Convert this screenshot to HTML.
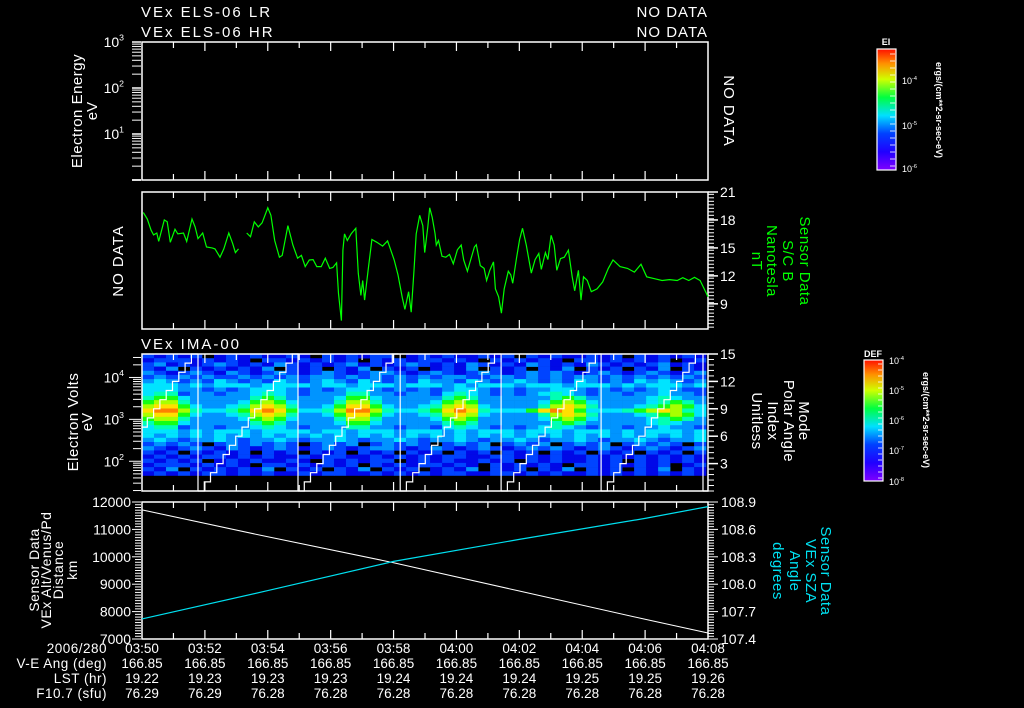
<!DOCTYPE html>
<html><head><meta charset="utf-8">
<style>
html,body{margin:0;padding:0;background:#000;}
svg{display:block;font-family:"Liberation Sans",sans-serif;}
text{fill:#fff;}
</style></head>
<body>
<svg id="c" width="1024" height="708" viewBox="0 0 1024 708" xmlns="http://www.w3.org/2000/svg">
<defs>
<linearGradient id="jet" x1="0" y1="1" x2="0" y2="0">
<stop offset="0" stop-color="#8000ff"/><stop offset="0.15" stop-color="#2000ff"/>
<stop offset="0.3" stop-color="#0040ff"/><stop offset="0.45" stop-color="#00e0ff"/>
<stop offset="0.6" stop-color="#00ff40"/><stop offset="0.75" stop-color="#d0ff00"/>
<stop offset="0.88" stop-color="#ff9000"/><stop offset="1" stop-color="#ff1000"/>
</linearGradient>
</defs>
<g id="g"></g>
</svg>
<script>
// ---------- data ----------
const timeTicks = ["03:50","03:52","03:54","03:56","03:58","04:00","04:02","04:04","04:06","04:08"];
const veAng = ["166.85","166.85","166.85","166.85","166.85","166.85","166.85","166.85","166.85","166.85"];
const lst = ["19.22","19.23","19.23","19.23","19.24","19.24","19.24","19.25","19.25","19.26"];
const f107 = ["76.29","76.29","76.28","76.28","76.28","76.28","76.28","76.28","76.28","76.28"];
// magnetic field (minutes since 03:50, nT); null = gap
const bTimes = [0.04,0.17,0.29,0.37,0.47,0.53,0.71,0.8,0.9,1.05,1.14,1.32,1.42,1.59,1.69,1.78,1.93,2.05,2.23,2.32,2.48,2.6,2.76,2.88,2.97,3.07,3.2,3.33,3.45,3.57,3.7,3.82,4.0,4.1,4.22,4.37,4.46,4.64,4.8,4.95,5.07,5.19,5.32,5.44,5.56,5.7,5.83,5.97,6.07,6.19,6.25,6.34,6.39,6.44,6.53,6.65,6.8,6.88,6.96,7.02,7.08,7.19,7.31,7.47,7.65,7.81,8.02,8.14,8.28,8.36,8.48,8.56,8.65,8.72,8.83,8.93,8.99,9.09,9.15,9.23,9.32,9.36,9.43,9.54,9.66,9.78,9.9,10.03,10.15,10.23,10.35,10.45,10.57,10.63,10.76,10.88,10.96,11.06,11.18,11.24,11.34,11.43,11.52,11.65,11.73,11.79,11.91,12.01,12.1,12.22,12.38,12.5,12.62,12.7,12.83,12.91,13.01,13.11,13.19,13.31,13.43,13.56,13.68,13.76,13.88,13.96,14.04,14.16,14.29,14.47,14.65,14.83,14.98,15.2,15.44,15.66,15.87,16.05,16.3,16.54,16.78,17.02,17.2,17.39,17.57,17.75,17.88,18.0];
const bValues = [18.8,18.1,16.9,16.4,16.6,15.7,18.0,17.8,15.6,17.0,16.5,16.6,15.7,18.1,17.25,16.0,16.6,15.1,15.0,14.9,14.0,14.9,16.6,15.5,14.5,14.9,null,16.6,16.2,17.8,17.25,17.7,19.3,18.5,15.8,14.0,14.2,17.4,15.3,13.9,14.2,13.0,13.7,13.75,13.0,13.0,13.9,12.8,12.9,13.4,10.1,7.2,14.75,16.5,15.8,16.5,17.1,12.25,9.9,11.5,9.4,12.6,15.9,15.6,15.2,15.75,13.7,12.1,9.6,8.4,10.3,8.1,12.6,16.5,18.5,17.4,14.5,17.25,19.3,18.3,16.5,15.3,15.8,14.1,14.0,14.3,13.3,14.8,15.3,13.7,12.5,13.7,15.1,15.35,13.1,12.8,11.5,12.6,13.5,10.6,9.75,8.0,10.6,12.5,12.1,11.2,13.9,15.9,17.1,15.3,12.3,13.75,14.4,12.7,14.5,13.75,16.35,15.3,12.6,13.85,14.0,14.75,11.9,10.4,12.6,9.4,11.9,11.5,10.3,10.6,11.35,12.8,13.7,13.0,12.8,12.4,13.25,11.9,11.7,11.5,11.6,11.5,11.8,11.5,11.85,11.5,10.6,9.75];
// IMA spectrogram: energy bin centres (log10 eV), colour level per time bin (0=no counts .. 9=max)
const energyLog = [4.51,4.41,4.31,4.21,4.11,4.01,3.91,3.81,3.71,3.61,3.51,3.41,3.31,3.21,3.11,3.01,2.91,2.81,2.71,2.61,2.51,2.41,2.31,2.21,2.11,2.01,1.91,1.81,1.71];
const specBinMinutes = 0.3817;
const specRows = [
"21212012121121021212201212112120212112120212121",
"12221212102212121202121221210212121022121212012",
"23121232121321212312123212132121321213212123121",
"21302121213021202130212012130212021302120213021",
"32123213212321232123321232123212323212321232123",
"23232322323232332323232323322332323233232323232",
"34323243232432343243232433243234323243232434323",
"44434344434444344344434443434443444344434344434",
"44433232344432323443232323443232334432323234322",
"45523323345432333553323324543232345432332334332",
"56643333356533334664333335653333335653333345433",
"67753333467643335775333346763333346764333345653",
"78864334578753346886433457874333357875333456764",
"89975445689864457997544568985444689864445678754",
"78864334578753346886433457874333357875333456764",
"67753333467643335775333346763333346764333345653",
"56643333356533334664333335653333335653333345433",
"45523323345432333553323324543232345432332334332",
"44434344434444344344434443434443444344434344434",
"43434343434343434343434343434343434343434343434",
"34323343233432334323343233432334323343233432334",
"23232023232320232302323202323023230232302323202",
"32123213212321232123321232123212323212321232123",
"21202121202120212021202120212021202120212021202",
"12121221212112122112121212211221212112121212121",
"21212012121121021212201212112120212112120212121",
"12221212102212121202121221210212121022121212012",
"21302121213021202130212012130212021302120213021",
"12121221212112122112121212211221212112121212121"];
// polar angle sweep start times (minutes), 16 steps each
const sweepStarts = [-1.43,1.78,4.96,8.21,11.42,14.6,17.84];
const sweepStepMinutes = 0.2;
// orbit
const orbitTimes = [0,4,8,12,16,18];
const altitudeKm = [11710,10730,9785,8750,7720,7220];
const szaDeg = [107.62,107.93,108.25,108.49,108.72,108.85];

// ---------- helpers ----------
const NS="http://www.w3.org/2000/svg";
const G=document.getElementById('g');
function el(tag,attrs,parent){const e=document.createElementNS(NS,tag);for(const k in attrs)e.setAttribute(k,attrs[k]);(parent||G).appendChild(e);return e;}
function txt(x,y,s,size,opt){opt=opt||{};const t=el('text',{x:x,y:y,'font-size':size,'text-anchor':opt.anchor||'start'});if(opt.fill)t.setAttribute('fill',opt.fill),t.style.fill=opt.fill;if(opt.rot!==undefined)t.setAttribute('transform','rotate('+opt.rot+' '+x+' '+y+')');if(opt.weight)t.setAttribute('font-weight',opt.weight);if(opt.ls)t.setAttribute('letter-spacing',opt.ls);t.textContent=s;return t;}
function line(x1,y1,x2,y2,c,w,p){return el('line',{x1:x1,y1:y1,x2:x2,y2:y2,stroke:c||'#fff','stroke-width':w||1},p);}
const XL=142, XR=708, MIN=18;
function X(t){return XL+(t/MIN)*(XR-XL);}

function frame(y0,y1,name){
  const g=el('g',{});
  
  
  el('rect',{x:XL,y:y0,width:XR-XL,height:y1-y0,fill:'none',stroke:'#fff','stroke-width':1.5},g);
  for(let m=1;m<MIN;m++){const x=X(m);const L=(m%2==0)?9:6;line(x,y0,x,y0+L,'#fff',1.2,g);line(x,y1,x,y1-L,'#fff',1.2,g);}
  return g;
}
function pow10Label(x,y,exp,size,anchor){
  const t=el('text',{x:x,y:y,'font-size':size,'text-anchor':anchor||'end'});
  t.textContent='10';
  const s=el('tspan',{'font-size':size*0.62,dy:-size*0.45},t);s.textContent=exp;
  return t;
}

// ---------- header ----------
let t;
t=txt(141,17,'VEx ELS-06 LR',15,{ls:2});
t=txt(141,37,'VEx ELS-06 HR',15,{ls:2});
t=txt(708,17,'NO DATA',15,{anchor:'end',ls:1});
t=txt(708,37,'NO DATA',15,{anchor:'end',ls:1});

// ---------- panel 1: electron energy (no data) ----------
const P1=[42,180];
frame(P1[0],P1[1],'electron-energy-panel');
(function(){
  const yE=e=>P1[1]-(e/3)*(P1[1]-P1[0]);
  for(let d=0;d<3;d++)for(let m=1;m<10;m++){const y=yE(d+Math.log10(m));line(132,y,141,y,'#fff',1);if(m==1)line(132,y,141,y,'#fff',1.5);}
  line(132,P1[0],141,P1[0],'#fff',1.5);line(132,P1[1],141,P1[1],'#fff',1.5);
  [1,2,3].forEach(d=>{const l=pow10Label(124,yE(d)+5,String(d),14);});
})();
t=txt(82,111,'Electron Energy',15,{anchor:'middle',rot:-90,ls:0.5});
t=txt(97,111,'eV',15,{anchor:'middle',rot:-90});
t=txt(724,111,'NO DATA',15,{anchor:'middle',rot:90,ls:1});

// EI colorbar
el('rect',{x:877,y:49,width:19,height:121,fill:'url(#jet)',stroke:'#fff','stroke-width':1.2});
t=txt(886,45,'EI',9,{anchor:'middle',weight:'bold'});
[[80,'-4'],[125,'-5'],[168,'-6']].forEach(a=>{const l=pow10Label(902,a[0]+4,a[1],9,'start');});
for(let y=54;y<168;y+=7){line(890,y,895,y,'#fff',0.8);}
t=txt(936,110,'ergs/(cm**2-sr-sec-eV)',9,{anchor:'middle',rot:90,weight:'bold'});

// ---------- panel 2: magnetic field ----------
const P2=[192,329], BMIN=6.3, BMAX=21;
function YB(v){return P2[1]-(v-BMIN)/(BMAX-BMIN)*(P2[1]-P2[0]);}
frame(P2[0],P2[1],'magnetic-field-panel');
for(let v=BMIN+0.2;v<=BMAX+0.01;v+=0.375){line(708,YB(v),714,YB(v),'#fff',1);}
[21,18,15,12,9].forEach(v=>{line(708,YB(v),718,YB(v),'#fff',1.5);const l=txt(720,YB(v)+5,String(v),14);});
(function(){
  let d='',pen=false;
  for(let i=0;i<bTimes.length;i++){
    if(bValues[i]===null){pen=false;continue;}
    d+=(pen?'L':'M')+X(bTimes[i]).toFixed(1)+' '+YB(bValues[i]).toFixed(1)+' ';pen=true;
  }
  const p=el('path',{d:d,fill:'none',stroke:'#00ff00','stroke-width':1.2});
  
  
})();
t=txt(123,261,'NO DATA',15,{anchor:'middle',rot:-90,ls:1});
[['Sensor Data',800],['S/C B',783],['Nanotesla',767],['nT',752]].forEach(a=>{const l=txt(a[1],261,a[0],15,{anchor:'middle',rot:90,fill:'#00ff00',ls:0.5});});

// ---------- panel 3: IMA spectrogram ----------
const P3=[354,491], EMIN=1.29, EMAX=4.56;
function YE(le){return P3[1]-(le-EMIN)/(EMAX-EMIN)*(P3[1]-P3[0]);}
const levelColor=['#000000','#0008e8','#0044ff','#0094ff','#00e4ff','#00ffb4','#14ff14','#a8ff00','#ffe000','#ff8000'];
(function(){
  const g=el('g',{});
  
  
  const nCols=Math.round(MIN/specBinMinutes);
  for(let r=0;r<energyLog.length;r++){
    const half=0.05;
    const yT=YE(energyLog[r]+half), yB=YE(energyLog[r]-half);
    const row=specRows[r]||'';
    for(let c=0;c<nCols;c++){
      const lv=parseInt(row.charAt(c)||'2',10);
      if(lv===0)continue;
      const x0=X(c*specBinMinutes), x1=Math.min(XR,X((c+1)*specBinMinutes));
      el('rect',{x:x0.toFixed(1),y:yT.toFixed(1),width:(x1-x0+0.3).toFixed(1),height:(yB-yT+0.3).toFixed(1),fill:levelColor[lv]},g);
    }
  }
})();
const PMIN=0,PMAX=15;
function YP(v){return P3[1]-(v-PMIN)/(PMAX-PMIN)*(P3[1]-P3[0]);}
(function(){
  const g=el('g',{});
  
  
  let d='';
  sweepStarts.forEach((s,i)=>{
    let started=false;
    for(let k=0;k<16;k++){
      let a=s+k*sweepStepMinutes,b=s+(k+1)*sweepStepMinutes;
      if(b<0||a>MIN)continue;
      a=Math.max(a,0);b=Math.min(b,MIN);
      d+=(started?'L':'M')+X(a).toFixed(1)+' '+YP(k).toFixed(1)+' L'+X(b).toFixed(1)+' '+YP(k).toFixed(1)+' ';
      started=true;
    }
    if(s>0&&s<MIN){d+='M'+X(s).toFixed(1)+' '+YP(15)+' L'+X(s).toFixed(1)+' '+YP(0)+' ';}
  });
  el('path',{d:d,fill:'none',stroke:'#fff','stroke-width':1.2},g);
})();
frame(P3[0],P3[1],'ima-panel');
for(let d=1;d<5;d++)for(let m=1;m<10;m++){const le=d+Math.log10(m);if(le<EMIN||le>EMAX)continue;const y=YE(le);line(m==1?129:133,y,141,y,'#fff',1);}
[2,3,4].forEach(d=>{const l=pow10Label(124,YE(d)+5,String(d),14);});
for(let v=0;v<=15;v+=0.6){line(708,YP(v),714,YP(v),'#fff',1);}
[15,12,9,6,3].forEach(v=>{line(708,YP(v),718,YP(v),'#fff',1.5);const l=txt(720,YP(v)+5,String(v),14);});
t=txt(141,349,'VEx IMA-00',15,{ls:2});
t=txt(78,422,'Electron Volts',15,{anchor:'middle',rot:-90,ls:0.5});
t=txt(92,422,'eV',15,{anchor:'middle',rot:-90});
[['Mode',799],['Polar Angle',784],['Index',768],['Unitless',752]].forEach(a=>{const l=txt(a[1],421,a[0],15,{anchor:'middle',rot:90,ls:0.5});});
// DEF colorbar
el('rect',{x:864,y:360,width:19,height:121,fill:'url(#jet)',stroke:'#fff','stroke-width':1.2});
t=txt(873,357,'DEF',9,{anchor:'middle',weight:'bold'});
[[360,'-4'],[390,'-5'],[420,'-6'],[450,'-7'],[481,'-8']].forEach(a=>{const l=pow10Label(889,a[0]+4,a[1],9,'start');});
for(let y=364;y<480;y+=6){line(878,y,882,y,'#fff',0.8);}
t=txt(923,420,'ergs/(cm**2-sr-sec-eV)',9,{anchor:'middle',rot:90,weight:'bold'});

// ---------- panel 4: orbit ----------
const P4=[502,639], AMIN=7000, AMAX=12000, SMIN=107.4, SMAX=108.9;
function YA(v){return P4[1]-(v-AMIN)/(AMAX-AMIN)*(P4[1]-P4[0]);}
function YS(v){return P4[1]-(v-SMIN)/(SMAX-SMIN)*(P4[1]-P4[0]);}
frame(P4[0],P4[1],'orbit-panel');
for(let v=AMIN;v<=AMAX;v+=100){line(v%1000==0?132:135,YA(v),141,YA(v),'#fff',1);}
[12000,11000,10000,9000,8000,7000].forEach(v=>{const l=txt(131,YA(v)+5,String(v),14,{anchor:'end'});});
for(let v=0;v<=50;v++){const y=YS(SMIN+v*0.03);line(708,y,(v%10==0)?718:714,y,'#fff',1);}
['108.9','108.6','108.3','108.0','107.7','107.4'].forEach(s=>{const l=txt(721,YS(parseFloat(s))+5,s,14);});
(function(){
  let d='';orbitTimes.forEach((tm,i)=>{d+=(i?'L':'M')+X(tm).toFixed(1)+' '+YA(altitudeKm[i]).toFixed(1)+' ';});
  const p=el('path',{d:d,fill:'none',stroke:'#fff','stroke-width':1});
  
  
  let d2='';orbitTimes.forEach((tm,i)=>{d2+=(i?'L':'M')+X(tm).toFixed(1)+' '+YS(szaDeg[i]).toFixed(1)+' ';});
  const p2=el('path',{d:d2,fill:'none',stroke:'#00e0f0','stroke-width':1.2});
  
  
})();
[['Sensor Data',39],['VEx Alt/Venus/Pd',51],['Distance',63],['km',77]].forEach(a=>{const l=txt(a[1],570,a[0],14,{anchor:'middle',rot:-90,ls:0.5});});
[['Sensor Data',821],['VEx SZA',806],['Angle',790],['degrees',773]].forEach(a=>{const l=txt(a[1],571,a[0],15,{anchor:'middle',rot:90,fill:'#00e0f0',ls:0.5});});

// ---------- bottom annotation table ----------
const rowY=[653,668,683,698];
const rowLabels=['2006/280','V-E Ang (deg)','LST (hr)','F10.7 (sfu)'];
rowLabels.forEach((s,i)=>{const l=txt(107,rowY[i],s,13.5,{anchor:'end',ls:0.5});});
[timeTicks,veAng,lst,f107].forEach((arr,r)=>{arr.forEach((s,k)=>{const l=txt(X(k*2),rowY[r],s,13.5,{anchor:'middle'});});});
</script>
</body></html>
